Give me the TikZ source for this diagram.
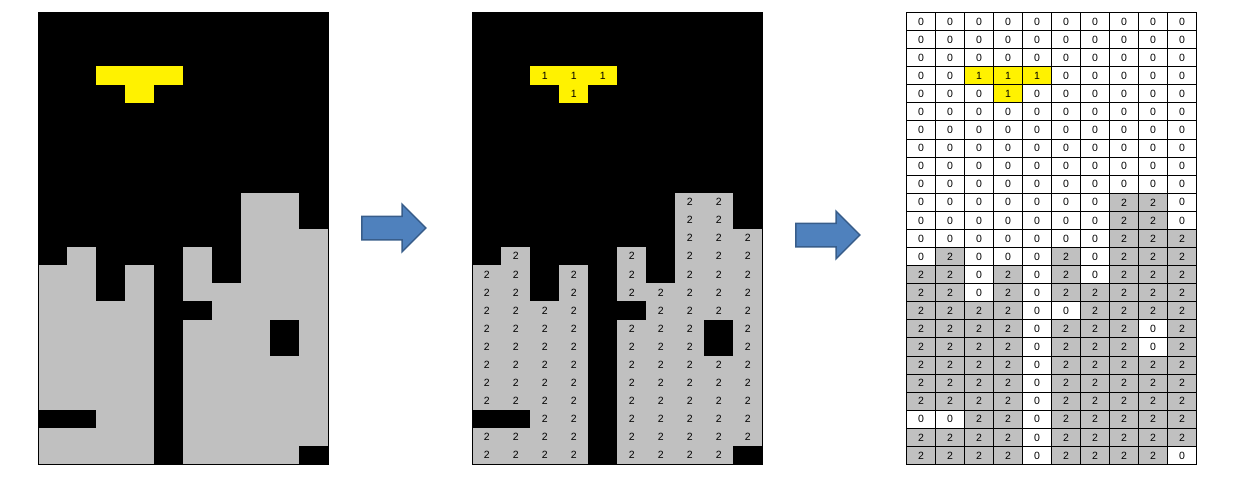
\documentclass[tikz,border=0pt]{standalone}
\usepackage{fontspec}
\setmainfont{Liberation Sans}
\usetikzlibrary{shapes.arrows}
\definecolor{cellgray}{RGB}{192,192,192}
\definecolor{arrowfill}{RGB}{79,129,189}
\definecolor{arrowdraw}{RGB}{56,93,138}
\tikzset{
    cell/.style = {anchor=north west, inner sep=0pt, minimum width=29pt, minimum height=18.08pt, font=\fontsize{10.5}{12}\selectfont},
    grid_0/.style = {cell, fill=black},
    grid_1/.style = {cell, fill=yellow},
    grid_2/.style = {cell, fill=cellgray},
    table_0/.style = {cell, fill=white, draw=black, line width=1pt},
    table_1/.style = {cell, fill=yellow, draw=black, line width=1pt},
    table_2/.style = {cell, fill=cellgray, draw=black, line width=1pt},
    grid_border/.style = {draw=black, line width=0.8pt},
    block_arrow/.style = {single arrow, fill=arrowfill, draw=arrowdraw, line width=1.5pt,
        inner xsep=0pt, inner ysep=11pt, minimum height=64pt, single arrow head extend=12pt, single arrow tip angle=90}
}
% 0 = empty, 1 = falling piece, 2 = stack
\def\cells{
    {0,0,0,0,0,0,0,0,0,0},
    {0,0,0,0,0,0,0,0,0,0},
    {0,0,0,0,0,0,0,0,0,0},
    {0,0,1,1,1,0,0,0,0,0},
    {0,0,0,1,0,0,0,0,0,0},
    {0,0,0,0,0,0,0,0,0,0},
    {0,0,0,0,0,0,0,0,0,0},
    {0,0,0,0,0,0,0,0,0,0},
    {0,0,0,0,0,0,0,0,0,0},
    {0,0,0,0,0,0,0,0,0,0},
    {0,0,0,0,0,0,0,2,2,0},
    {0,0,0,0,0,0,0,2,2,0},
    {0,0,0,0,0,0,0,2,2,2},
    {0,2,0,0,0,2,0,2,2,2},
    {2,2,0,2,0,2,0,2,2,2},
    {2,2,0,2,0,2,2,2,2,2},
    {2,2,2,2,0,0,2,2,2,2},
    {2,2,2,2,0,2,2,2,0,2},
    {2,2,2,2,0,2,2,2,0,2},
    {2,2,2,2,0,2,2,2,2,2},
    {2,2,2,2,0,2,2,2,2,2},
    {2,2,2,2,0,2,2,2,2,2},
    {0,0,2,2,0,2,2,2,2,2},
    {2,2,2,2,0,2,2,2,2,2},
    {2,2,2,2,0,2,2,2,2,0}}
\begin{document}
\begin{tikzpicture}[x=1pt, y=-1pt]
    \useasboundingbox (0,0) rectangle (1254,488);

    \foreach \line [count=\r] in \cells {
        \foreach \v [count=\c] in \line {
            \node [grid_\v] (L-\r-\c) at ({38+29*(\c-1)}, {12+18.08*(\r-1)}) {};
            \node [grid_\v] (M-\r-\c) at ({472+29*(\c-1)}, {12+18.08*(\r-1)}) {\ifnum\v>0 \v\fi};
            \node [table_\v] (R-\r-\c) at ({906+29*(\c-1)}, {12+18.08*(\r-1)}) {\v};
        }
    }
    \draw [grid_border] (L-1-1.north west) rectangle (L-25-10.south east);
    \draw [grid_border] (M-1-1.north west) rectangle (M-25-10.south east);

    % arrows between the grids
    \node [block_arrow] (arrow_a) at (388,228) {};
    \node [block_arrow] (arrow_b) at (822,235) {};
\end{tikzpicture}
\end{document}
